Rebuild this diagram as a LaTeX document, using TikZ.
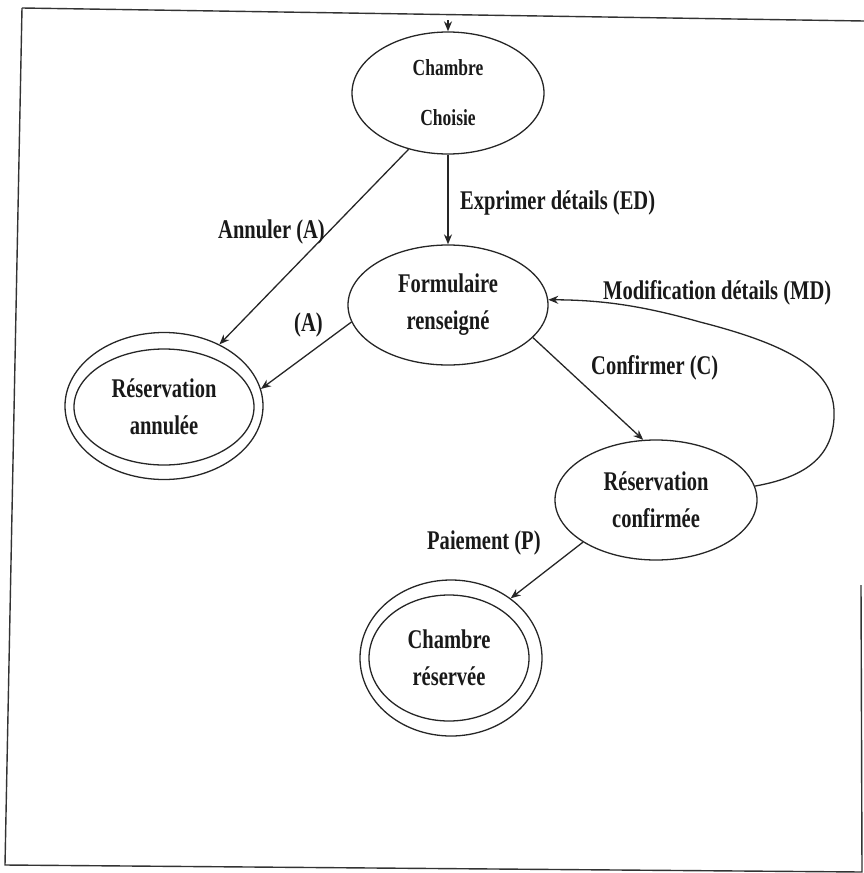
\documentclass[tikz,border=0pt]{standalone}
\usepackage{fontspec}
\newfontfamily\lblfont{Liberation Serif}[FakeStretch=0.76]
\usetikzlibrary{arrows.meta,shapes.geometric}
\begin{document}
\begin{tikzpicture}[x=1pt,y=-1pt,
  ink/.style={draw=black!85, line width=1.3pt},
  state/.style={ellipse, ink, inner sep=0pt, align=center, text=black!90,
    font=\lblfont\bfseries\fontsize{27}{37}\selectfont},
  arr/.style={ink, -{Stealth[length=10pt,width=8pt]}},
  lbl/.style={font=\lblfont\bfseries\fontsize{27}{30}\selectfont, text=black!90, inner sep=0pt},
  frame/.style={draw=black!80, line width=1.4pt}]
\useasboundingbox (0,0) rectangle (864,873);

% page frame
\draw[frame] (22,8) -- (864,21);
\draw[frame] (22,8) -- (5,865) -- (862,872) -- (861,585);

% states
\node[state, minimum width=192pt, minimum height=122pt,
  font=\lblfont\bfseries\fontsize{23}{50}\selectfont] (cc) at (448,93) {Chambre\\Choisie};
\node[state, minimum width=200pt, minimum height=120pt] (fr) at (448,305) {Formulaire\\renseigné};
\node[state, minimum width=198pt, minimum height=147pt] (ra) at (164,406) {};
\node[state, minimum width=180pt, minimum height=116pt] (rai) at (164,407) {Réservation\\annulée};
\node[state, minimum width=202pt, minimum height=120pt] (rc) at (656,500) {Réservation\\confirmée};
\node[state, minimum width=182pt, minimum height=156pt] (cr) at (451,658) {};
\node[state, minimum width=160pt, minimum height=126pt] (cri) at (449,658) {Chambre\\réservée};

% transitions
\coordinate (init) at (448,20);
\draw[arr] (init) -- (cc.north);
\draw[arr] (cc.south) -- (fr.north);
\draw[arr] (cc.235) -- (ra.48);
\draw[arr] (fr.190) -- (ra.10);
\draw[arr] (fr.339) -- (rc.102);
\draw[arr] (rc.210) -- (cr.45);
\draw[arr] (rc.8) .. controls (800,478) and (836,460) .. (834,410)
  .. controls (832,370) and (790,345) .. (700,322)
  .. controls (640,305) and (600,300) .. (fr.3);

% transition labels
\node[lbl, anchor=west] (led) at (460,203) {Exprimer détails (ED)};
\node[lbl, anchor=west] (lann) at (218,232) {Annuler (A)};
\node[lbl, anchor=west] (la) at (294,325) {(A)};
\node[lbl, anchor=west] (lc) at (591,368) {Confirmer (C)};
\node[lbl, anchor=west] (lmd) at (603,293) {Modification détails (MD)};
\node[lbl, anchor=west] (lp) at (427,543) {Paiement (P)};
\end{tikzpicture}
\end{document}
